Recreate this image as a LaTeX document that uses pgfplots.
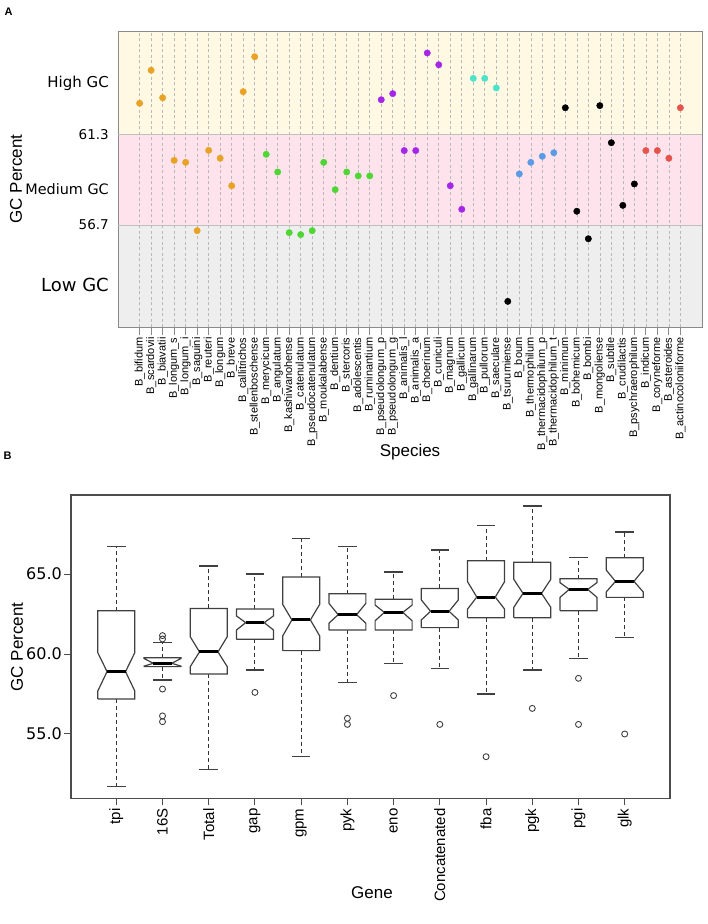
\documentclass[border=0pt]{standalone}
\usepackage{fontspec}
\setmainfont{Liberation Sans}
\newfontfamily\dejavu{DejaVu Sans}
\usepackage{pgfplots}
\pgfplotsset{compat=1.18}

\definecolor{hiband}{HTML}{FFF8E2}
\definecolor{meband}{HTML}{FFE3EC}
\definecolor{loband}{HTML}{EEEEEE}
\definecolor{cOr}{HTML}{E8A325}
\definecolor{cGr}{HTML}{4ED633}
\definecolor{cPu}{HTML}{A526E8}
\definecolor{cCy}{HTML}{4CE3C8}
\definecolor{cBl}{HTML}{5B9BE6}
\definecolor{cRe}{HTML}{E6524C}
\definecolor{frame}{HTML}{8A8A8A}

\pgfplotsset{
  boxl/.style={draw=black!75, line width=1.2pt, line join=miter},
  medl/.style={draw=black, line width=3pt},
  whisk/.style={draw=black!80, line width=1pt, dash pattern=on 4pt off 3pt},
  dots/.style={only marks, mark=*, mark size=3.2pt},
}

% notched box: centre, lower whisker, q1, notch low, median, notch high, q3, upper whisker
\newcommand{\nbox}[8]{%
  \pgfmathsetmacro\xa{#1-0.4}\pgfmathsetmacro\xb{#1-0.2}%
  \pgfmathsetmacro\xc{#1+0.2}\pgfmathsetmacro\xd{#1+0.4}%
  \addplot[whisk] coordinates {(#1,#7) (#1,#8)};
  \addplot[whisk] coordinates {(#1,#3) (#1,#2)};
  \addplot[boxl] coordinates {(\xb,#8) (\xc,#8)};
  \addplot[boxl] coordinates {(\xb,#2) (\xc,#2)};
  \addplot[boxl, fill=white] coordinates {(\xa,#3) (\xa,#4) (\xb,#5) (\xa,#6) (\xa,#7) (\xd,#7) (\xd,#6) (\xc,#5) (\xd,#4) (\xd,#3) (\xa,#3)};
  \addplot[medl] coordinates {(\xb,#5) (\xc,#5)};
}

\begin{document}
\begin{tikzpicture}
\path (0,0) rectangle (708pt,924pt);
\node[font=\bfseries\fontsize{11}{12}\selectfont] at (8.5pt,912pt) {A};
\node[font=\bfseries\fontsize{11}{12}\selectfont] at (7.5pt,468pt) {B};

% ---------- panel A ----------
\begin{axis}[
  set layers,
  scale only axis, width=584pt, height=295.3pt,
  at={(118pt,596.7pt)}, anchor=south west,
  xmin=-0.88, xmax=49.88, ymin=51.49, ymax=66.53,
  axis line style={draw=frame, line width=1pt},
  tick align=outside, tick pos=left,
  major tick length=8pt,
  xtick={1,...,48},
  xticklabels={B\_bifidum,B\_scardovii,B\_biavatii,B\_longum\_s,B\_longum\_i,B\_saguini,B\_reuteri,B\_longum,B\_breve,B\_callitrichos,B\_stellenboschense,B\_merycicum,B\_angulatum,B\_kashiwanohense,B\_catenulatum,B\_pseudocatenulatum,B\_moukalabense,B\_dentium,B\_stercoris,B\_adolescentis,B\_ruminantium,B\_pseudolongum\_p,B\_pseudolongum\_g,B\_animalis\_l,B\_animalis\_a,B\_choerinum,B\_cuniculi,B\_magnum,B\_gallicum,B\_gallinarum,B\_pullorum,B\_saeculare,B\_tsurumiense,B\_boum,B\_thermophilum,B\_thermacidophilum\_p,B\_thermacidophilum\_t,B\_minimum,B\_bohemicum,B\_bombi,B\_mongoliense,B\_subtile,B\_crudilactis,B\_psychraerophilum,B\_indicum,B\_coryneforme,B\_asteroides,B\_actinocoloniiforme},
  xticklabel style={rotate=90, anchor=east, inner sep=2pt, font=\fontsize{11}{12}\selectfont},
  xtick style={draw=frame, line width=0.8pt},
  xmajorgrids,
  grid style={draw=gray!55, dash pattern=on 3pt off 2.5pt, line width=0.6pt},
  ytick={53.64,56.7,58.53,61.3,63.93},
  yticklabels={{\fontsize{18}{20}\selectfont Low GC},56.7,{\fontsize{14.4}{16}\selectfont Medium GC},61.3,{\fontsize{15}{17}\selectfont High GC}},
  yticklabel style={font=\dejavu\fontsize{13.5}{15}\selectfont, inner sep=1pt},
  ytick style={draw=none},
]
\addplot[on layer=axis background, fill=hiband, draw=none] coordinates {(-0.88,61.3) (49.88,61.3) (49.88,66.53) (-0.88,66.53) (-0.88,61.3)};
\addplot[on layer=axis background, fill=meband, draw=none] coordinates {(-0.88,56.7) (49.88,56.7) (49.88,61.3) (-0.88,61.3) (-0.88,56.7)};
\addplot[on layer=axis background, fill=loband, draw=none] coordinates {(-0.88,51.49) (49.88,51.49) (49.88,56.7) (-0.88,56.7) (-0.88,51.49)};
\addplot[draw=gray!50, line width=0.8pt] coordinates {(-0.88,61.3) (49.88,61.3)};
\addplot[draw=gray!50, line width=0.8pt] coordinates {(-0.88,56.7) (49.88,56.7)};

\addplot[dots, color=cOr] coordinates {(1,62.90) (2,64.58) (3,63.18) (4,59.99) (5,59.89) (6,56.41) (7,60.50) (8,60.10) (9,58.70) (10,63.49) (11,65.27)};
\addplot[dots, color=cGr] coordinates {(12,60.30) (13,59.40) (14,56.31) (15,56.21) (16,56.41) (17,59.89) (18,58.50) (19,59.40) (20,59.20) (21,59.20)};
\addplot[dots, color=cPu] coordinates {(22,63.08) (23,63.39) (24,60.49) (25,60.49) (26,65.46) (27,64.86) (28,58.70) (29,57.50)};
\addplot[dots, color=cCy] coordinates {(30,64.17) (31,64.17) (32,63.68)};
\addplot[dots, color=black] coordinates {(33,52.81) (38,62.67) (39,57.40) (40,56.00) (41,62.78) (42,60.89) (43,57.70) (44,58.79)};
\addplot[dots, color=cBl] coordinates {(34,59.30) (35,59.89) (36,60.20) (37,60.38)};
\addplot[dots, color=cRe] coordinates {(45,60.49) (46,60.49) (47,60.10) (48,62.67)};
\end{axis}
\node[rotate=90, font=\fontsize{17}{18}\selectfont] at (16pt,745pt) {GC Percent};
\node[font=\fontsize{17}{18}\selectfont] at (410pt,472pt) {Species};

% ---------- panel B ----------
\begin{axis}[
  scale only axis, width=599pt, height=303.3pt,
  at={(71pt,125.7pt)}, anchor=south west,
  xmin=0.02, xmax=12.98, ymin=50.98, ymax=69.94,
  axis line style={draw=black!70, line width=1.2pt},
  tick align=outside, tick pos=left, major tick length=7pt,
  tick style={draw=black!70, line width=1pt},
  xtick={1,...,12},
  xticklabels={tpi,16S,Total,gap,gpm,pyk,eno,Concatenated,fba,pgk,pgi,glk},
  xticklabel style={rotate=90, anchor=east, inner sep=3pt, font=\fontsize{15}{16}\selectfont},
  ytick={55,60,65}, yticklabels={55.0,60.0,65.0},
  yticklabel style={font=\dejavu\fontsize{16}{17}\selectfont, inner sep=2pt},
]
\nbox{1}{51.71}{57.19}{57.69}{58.90}{60.08}{62.71}{66.71}
\nbox{2}{58.38}{59.21}{59.24}{59.42}{59.72}{59.77}{60.71}
\nbox{3}{52.79}{58.75}{59.21}{60.13}{61.08}{62.85}{65.50}
\nbox{4}{59.00}{60.92}{61.50}{61.96}{62.38}{62.81}{65.00}
\nbox{5}{53.58}{60.21}{61.13}{62.13}{63.10}{64.81}{67.23}
\nbox{6}{58.21}{61.50}{61.92}{62.46}{63.17}{63.77}{66.71}
\nbox{7}{59.42}{61.50}{62.08}{62.60}{63.06}{63.42}{65.13}
\nbox{8}{59.10}{61.65}{62.13}{62.67}{63.38}{64.10}{66.50}
\nbox{9}{57.50}{62.27}{62.81}{63.56}{64.52}{65.83}{68.04}
\nbox{10}{59.00}{62.27}{62.92}{63.79}{64.67}{65.73}{69.25}
\nbox{11}{59.71}{62.71}{63.54}{64.04}{64.46}{64.71}{66.02}
\nbox{12}{61.02}{63.54}{63.88}{64.54}{65.25}{66.02}{67.63}
\addplot[only marks, mark=o, mark size=3pt, mark options={line width=0.9pt}, color=black!75] coordinates {
  (2,61.15) (2,60.94) (2,57.81) (2,56.13) (2,55.77)
  (4,57.60) (6,55.98) (6,55.60) (7,57.40) (8,55.60)
  (9,53.58) (10,56.60) (11,58.48) (11,55.60) (12,55.00)};
\end{axis}
\node[rotate=90, font=\fontsize{17}{18}\selectfont] at (17pt,277pt) {GC Percent};
\node[font=\fontsize{17}{18}\selectfont] at (372pt,31pt) {Gene};
\pgfresetboundingbox
\path[use as bounding box] (0,0) rectangle (708pt,924pt);
\end{tikzpicture}
\end{document}
